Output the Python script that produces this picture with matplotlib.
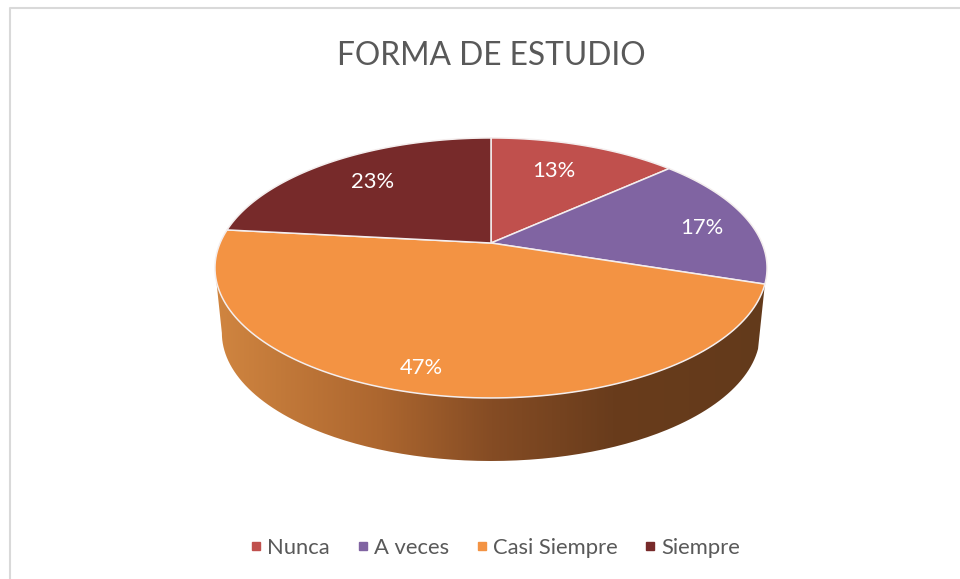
import matplotlib
matplotlib.use("Agg")
import matplotlib.pyplot as plt
import numpy as np
from matplotlib.colors import LinearSegmentedColormap
from matplotlib.lines import Line2D
from matplotlib.patches import PathPatch, Polygon
from matplotlib.path import Path

title = "FORMA DE ESTUDIO"
categories = ["Nunca", "A veces", "Casi Siempre", "Siempre"]
shares = [13.3, 16.7, 46.7, 23.3]
colors = ["#c0504d", "#8064a2", "#f39343", "#772a2a"]

plt.rcParams["font.family"] = ["Lato", "DejaVu Sans"]

# pie geometry in pixels, the disc is seen in perspective so the centre
# of the slices sits above the middle of the ellipse
CX, CY = 491, 268
A, B, C, K = 270.9, 130, 25, 0.192
DEPTH, SHRINK = 65, 0.975


def project(theta, r=1.0):
    u = r * np.sin(theta)
    v = r * np.cos(theta)
    d = 1 + K * v
    return CX + A * u / d, CY - (C + B * v) / d


def lower(x, y):
    return CX + SHRINK * (x - CX), CY + 0.985 * (y - CY) + DEPTH


fig = plt.figure(figsize=(9.6, 5.79), dpi=100)
ax = fig.add_axes([0, 0, 1, 1])
ax.set_xlim(0, 960)
ax.set_ylim(579, 0)
ax.axis("off")

# chart frame
ax.plot([10, 10, 960], [579, 8, 8], color="#d9d9d9", lw=1.5, zorder=1)

edges = np.cumsum([0] + shares) / sum(shares) * 2 * np.pi

# wall of the pie, gradient clipped to the outline
left_extreme = 2 * np.pi - np.arccos(-K)
t = np.linspace(edges[2], left_extreme, 200)
tx, ty = project(t)
bx, by = lower(tx, ty)
wall = np.column_stack([np.r_[tx, bx[::-1]], np.r_[ty, by[::-1]]])
clip = PathPatch(Path(np.r_[wall, wall[:1]]), transform=ax.transData, fc="none", ec="none")
ax.add_patch(clip)
cmap = LinearSegmentedColormap.from_list(
    "wall",
    [(0, "#d08540"), (0.3, "#ac662f"), (0.5, "#854c24"), (0.72, "#693c1c"), (1, "#633a1b")],
)
grad = np.linspace(0, 1, 256).reshape(1, -1)
im = ax.imshow(grad, cmap=cmap, extent=[216, 767, 470, 260], aspect="auto", zorder=2)
im.set_clip_path(clip)
ax.set_xlim(0, 960)
ax.set_ylim(579, 0)

# top of the pie
for i in range(len(shares)):
    t = np.linspace(edges[i], edges[i + 1], 120)
    x, y = project(t)
    cx, cy = project(0.0, 0.0)
    pts = np.column_stack([np.r_[cx, x], np.r_[cy, y]])
    ax.add_patch(Polygon(pts, closed=True, fc=colors[i], ec="#f4eeee", lw=1.1, zorder=3))

# data labels
label_r = [0.72, 0.82, 0.85, 0.74]
label_dx = [-7, 0, -12, 3]
label_dy = [1, 6, 1, 1]
for i, s in enumerate(shares):
    mid = (edges[i] + edges[i + 1]) / 2
    x, y = project(mid, label_r[i])
    ax.text(x + label_dx[i], y + label_dy[i], f"{s:.0f}%", color="white", fontsize=15.8,
            ha="center", va="center", zorder=4)

ax.text(491, 56, title, color="#595959", fontsize=22.9, ha="center", va="center")

handles = [Line2D([], [], ls="none", marker="s", ms=5.5, color=c) for c in colors]
ax.legend(
    handles,
    categories,
    ncol=4,
    loc="center",
    bbox_to_anchor=(495 / 960, 1 - 548 / 579),
    frameon=False,
    fontsize=15.8,
    labelcolor="#595959",
    handlelength=0.6,
    handletextpad=0.2,
    columnspacing=1.2,
)

fig.savefig("out.png", dpi=100)
